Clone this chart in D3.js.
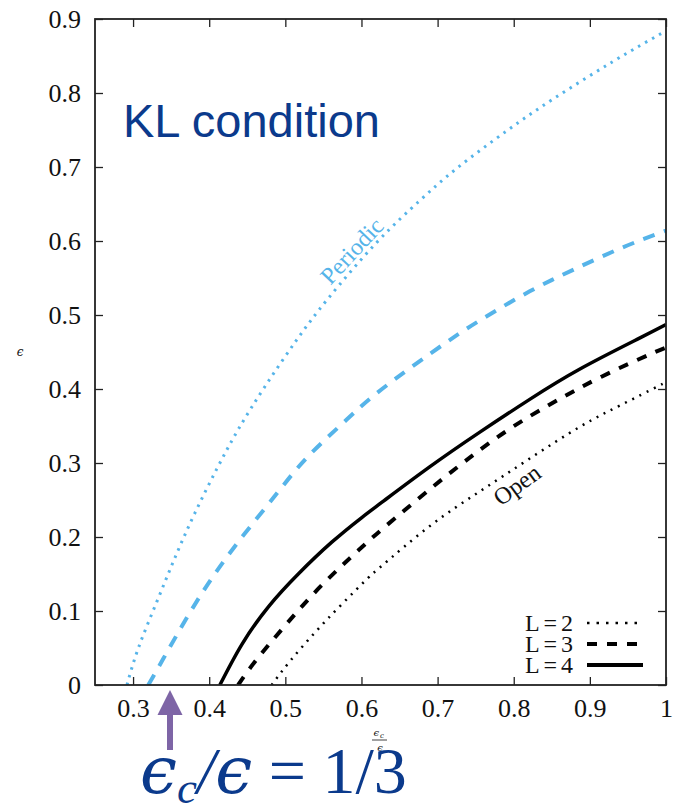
<!DOCTYPE html>
<html><head><meta charset="utf-8">
<script src="https://cdn.jsdelivr.net/npm/d3@7"></script>
<style>html,body{margin:0;padding:0;background:#fff;}svg{display:block;}</style>
</head><body>
<script>
// ---- data ----
const xTickValues = [0.3, 0.4, 0.5, 0.6, 0.7, 0.8, 0.9, 1];
const xTickLabels = ["0.3", "0.4", "0.5", "0.6", "0.7", "0.8", "0.9", "1"];
const yTickValues = [0, 0.1, 0.2, 0.3, 0.4, 0.5, 0.6, 0.7, 0.8, 0.9];
const yTickLabels = ["0", "0.1", "0.2", "0.3", "0.4", "0.5", "0.6", "0.7", "0.8", "0.9"];

const periodicL2 = [[0.292,0],[0.307,0.050],[0.331,0.112],[0.355,0.172],[0.381,0.232],[0.410,0.292],[0.438,0.345],[0.473,0.403],[0.514,0.465],[0.556,0.522],[0.620,0.598],[0.677,0.655],[0.725,0.698],[0.791,0.749],[0.852,0.792],[0.931,0.843],[1.0,0.884]];
const periodicL3 = [[0.320,0],[0.340,0.036],[0.373,0.095],[0.408,0.151],[0.447,0.205],[0.489,0.259],[0.530,0.309],[0.581,0.359],[0.627,0.400],[0.710,0.462],[0.764,0.498],[0.821,0.532],[0.878,0.561],[0.940,0.590],[1.0,0.614]];
const openL4 = [[0.414,0],[0.443,0.055],[0.478,0.106],[0.517,0.150],[0.561,0.193],[0.600,0.226],[0.627,0.247],[0.690,0.295],[0.756,0.342],[0.821,0.386],[0.887,0.427],[0.962,0.467],[1.0,0.487]];
const openL3 = [[0.438,0],[0.462,0.034],[0.502,0.083],[0.548,0.135],[0.596,0.182],[0.631,0.214],[0.694,0.268],[0.747,0.311],[0.799,0.349],[0.856,0.384],[0.916,0.417],[0.977,0.446],[1.0,0.456]];
const openL2 = [[0.482,0],[0.506,0.032],[0.539,0.071],[0.574,0.109],[0.609,0.145],[0.629,0.163],[0.690,0.215],[0.756,0.262],[0.821,0.306],[0.887,0.349],[0.940,0.378],[0.990,0.404],[1.0,0.409]];

const legendLabels = ["L=2", "L=3", "L=4"];

// ---- layout ----
const W = 673, H = 812;
const mLeft = 95, mRight = 666, mTop = 19, mBottom = 685;
const BLUE = "#56b4e9", DARKBLUE = "#0b3a8c", PURPLE = "#7e65a6";
const serif = "'Liberation Serif', 'DejaVu Serif', serif";
const mathSerif = "'DejaVu Serif', serif";

const svg = d3.select("body").append("svg").attr("width", W).attr("height", H);
const x = d3.scaleLinear().domain([0.25, 1]).range([mLeft, mRight]);
const y = d3.scaleLinear().domain([0, 0.9]).range([mBottom, mTop]);

svg.append("defs").append("clipPath").attr("id", "clip")
  .append("rect").attr("x", mLeft).attr("y", mTop).attr("width", mRight - mLeft).attr("height", mBottom - mTop);

// axes with inward ticks
const fmtX = (d) => xTickLabels[xTickValues.indexOf(d)];
const fmtY = (d) => yTickLabels[yTickValues.indexOf(d)];
const tickLen = 8;

const gB = svg.append("g").attr("transform", `translate(0,${mBottom})`)
  .call(d3.axisBottom(x).tickValues(xTickValues).tickFormat(fmtX).tickSizeInner(-tickLen).tickSizeOuter(0).tickPadding(14));
const gL = svg.append("g").attr("transform", `translate(${mLeft},0)`)
  .call(d3.axisLeft(y).tickValues(yTickValues).tickFormat(fmtY).tickSizeInner(-tickLen).tickSizeOuter(0).tickPadding(14));
const gT = svg.append("g").attr("transform", `translate(0,${mTop})`)
  .call(d3.axisTop(x).tickValues(xTickValues).tickFormat("").tickSizeInner(-tickLen).tickSizeOuter(0));
const gR = svg.append("g").attr("transform", `translate(${mRight},0)`)
  .call(d3.axisRight(y).tickValues(yTickValues).tickFormat("").tickSizeInner(-tickLen).tickSizeOuter(0));
[gB, gL, gT, gR].forEach(g => {
  g.attr("font-family", null).attr("font-size", null);
  g.select(".domain").remove();
  g.selectAll(".tick line").attr("stroke", "#222").attr("stroke-width", 1.3);
  g.selectAll(".tick text").style("font-family", serif).style("font-size", "26px").attr("fill", "#111");
});
gL.selectAll(".tick text").attr("dy", "0.33em");
gB.selectAll(".tick text").attr("dy", "0.71em");

// lines
const line = d3.line().x(d => x(d[0])).y(d => y(d[1])).curve(d3.curveNatural);
const plot = svg.append("g").attr("clip-path", "url(#clip)");
const series = [
  { data: periodicL2, color: BLUE, width: 3, dash: "2.5,5.5" },
  { data: periodicL3, color: BLUE, width: 4, dash: "12,10" },
  { data: openL2, color: "#000", width: 2.5, dash: "2,6" },
  { data: openL3, color: "#000", width: 4, dash: "10,10" },
  { data: openL4, color: "#000", width: 3.5, dash: null }
];
series.forEach(s => {
  plot.append("path").attr("d", line(s.data)).attr("fill", "none")
    .attr("stroke", s.color).attr("stroke-width", s.width)
    .attr("stroke-dasharray", s.dash);
});

// frame
svg.append("rect").attr("x", mLeft).attr("y", mTop).attr("width", mRight - mLeft).attr("height", mBottom - mTop)
  .attr("fill", "none").attr("stroke", "#222").attr("stroke-width", 1.8);

// legend
const legendStyles = [
  { width: 2.5, dash: "2.5,7" },
  { width: 4, dash: "10,10" },
  { width: 4, dash: null }
];
const legY = [623, 644, 665];
legendLabels.forEach((lab, i) => {
  svg.append("text").attr("x", 573).attr("y", legY[i]).attr("dy", "0.33em")
    .attr("text-anchor", "end").attr("textLength", 48).attr("lengthAdjust", "spacing")
    .style("font-family", serif).style("font-size", "24px").attr("fill", "#111").text(lab);
  svg.append("line").attr("x1", 587).attr("x2", 643).attr("y1", legY[i]).attr("y2", legY[i])
    .attr("stroke", "#000").attr("stroke-width", legendStyles[i].width).attr("stroke-dasharray", legendStyles[i].dash);
});

// annotations
svg.append("text").attr("x", 123).attr("y", 137).style("font-family", "'Liberation Sans', Arial, sans-serif")
  .style("font-size", "47px").attr("fill", DARKBLUE).text("KL condition");

svg.append("text").attr("transform", "translate(352,251) rotate(-47)").attr("text-anchor", "middle")
  .attr("dy", "0.33em").style("font-family", serif).style("font-size", "24px").attr("fill", BLUE).text("Periodic");
svg.append("text").attr("transform", "translate(517,485) rotate(-36)").attr("text-anchor", "middle")
  .attr("dy", "0.33em").style("font-family", serif).style("font-size", "24px").attr("fill", "#111").text("Open");

// axis labels
svg.append("text").attr("x", 20).attr("y", 352).attr("text-anchor", "middle")
  .attr("dy", "0.33em").style("font-family", mathSerif).style("font-size", "12px").style("font-style", "italic").attr("fill", "#111").text("ϵ");
const frac = svg.append("g").attr("transform", "translate(380,739)");
frac.append("text").attr("x", -1).attr("y", -3).attr("text-anchor", "end").style("font-family", mathSerif)
  .style("font-size", "10px").style("font-style", "italic").attr("fill", "#111").text("ϵ");
frac.append("text").attr("x", 0).attr("y", -1).attr("text-anchor", "start").style("font-family", mathSerif)
  .style("font-size", "7px").style("font-style", "italic").attr("fill", "#111").text("c");
frac.append("line").attr("x1", -8).attr("x2", 7).attr("y1", 1).attr("y2", 1).attr("stroke", "#111").attr("stroke-width", 0.8);
frac.append("text").attr("text-anchor", "middle").attr("y", 12).style("font-family", mathSerif)
  .style("font-size", "10px").style("font-style", "italic").attr("fill", "#111").text("ϵ");

// purple arrow
const ax = 170;
svg.append("rect").attr("x", ax - 3).attr("y", 712).attr("width", 6).attr("height", 38).attr("fill", PURPLE);
svg.append("path").attr("d", `M${ax},690 L${ax + 12.5},715 L${ax - 12.5},715 Z`).attr("fill", PURPLE);

// big label
const big = svg.append("text").attr("x", 140).attr("y", 793).style("font-family", serif)
  .style("font-size", "66px").attr("fill", DARKBLUE);
big.append("tspan").style("font-family", mathSerif).style("font-style", "italic").text("ϵ");
big.append("tspan").style("font-style", "italic").style("font-size", "45px").attr("dy", 10).text("c");
big.append("tspan").style("font-style", "italic").attr("dy", -10).text("/");
big.append("tspan").style("font-family", mathSerif).style("font-style", "italic").text("ϵ");
big.append("tspan").text(" = 1/3");
</script>
</body></html>
